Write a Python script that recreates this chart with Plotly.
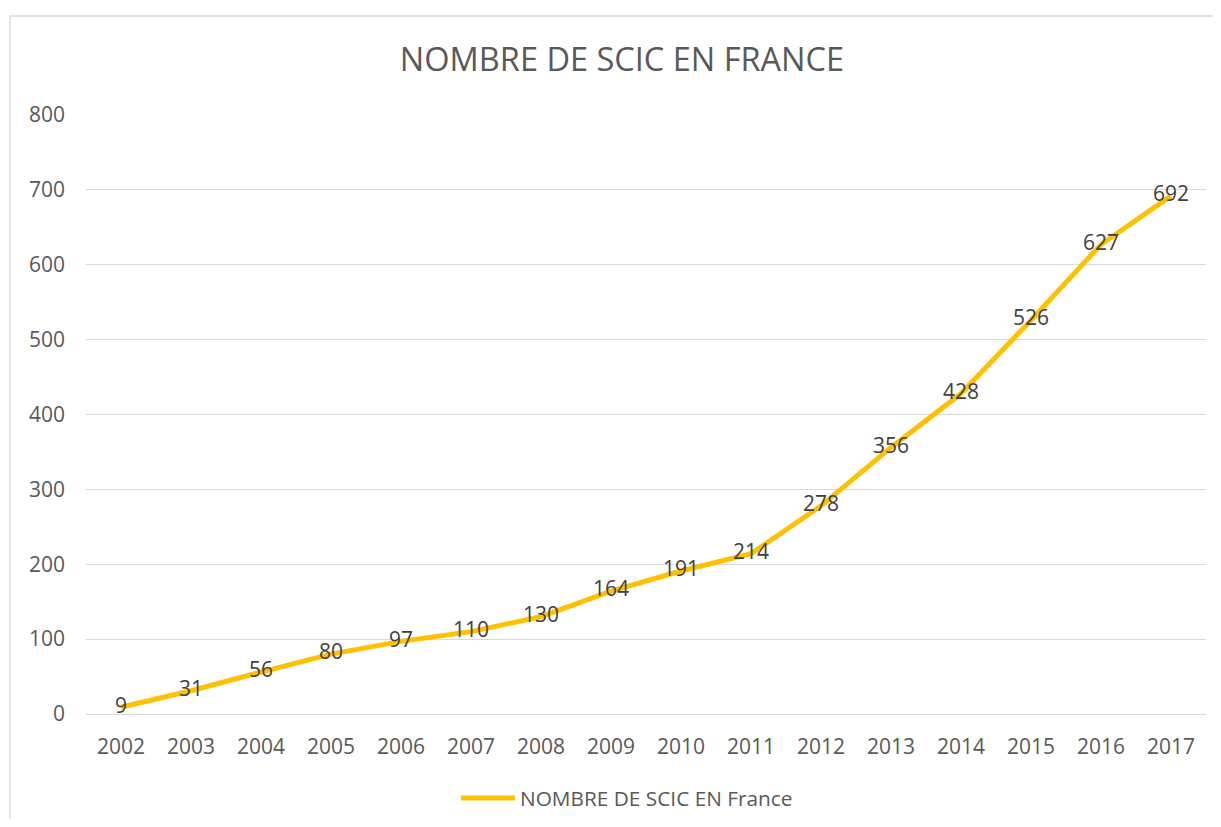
import plotly.graph_objects as go

years = ["2002", "2003", "2004", "2005", "2006", "2007", "2008", "2009",
         "2010", "2011", "2012", "2013", "2014", "2015", "2016", "2017"]
scic_count = [9, 31, 56, 80, 97, 110, 130, 164, 191, 214, 278, 356, 428, 526, 627, 692]
y_ticks = [0, 100, 200, 300, 400, 500, 600, 700, 800]
series_name = "NOMBRE DE SCIC EN France"

FONT = "Open Sans"
OFF = 8  # default page body margin
W, H = 1221 - 2 * OFF, 827 - 2 * OFF
L, T = 86 - OFF, 115 - OFF
R = W - (1206 - OFF)
B = H - (714 - OFF)
pw, ph = W - L - R, H - T - B


def px(x):
    return (x - OFF - L) / pw


def py(y):
    return ((714 - OFF) - (y - OFF)) / ph


fig = go.Figure()
fig.add_trace(go.Scatter(
    x=years, y=scic_count, mode="lines+text",
    name=series_name,
    text=[str(v) for v in scic_count], textposition="middle center",
    textfont=dict(family=FONT, size=21, color="#404040"),
    line=dict(color="#FFC000", width=5),
    cliponaxis=False, showlegend=False,
))

fig.update_layout(
    width=W, height=H,
    margin=dict(l=L, r=R, t=T, b=B),
    paper_bgcolor="white", plot_bgcolor="white",
    font=dict(family=FONT, color="#595959"),
    title=dict(text="NOMBRE DE SCIC EN FRANCE", font=dict(family=FONT, size=32.5, color="#595959"),
               x=px(622), xref="paper", xanchor="center",
               y=1 - (60 - OFF) / H, yref="container", yanchor="middle"),
    showlegend=False,
    xaxis=dict(type="category", range=[-0.5, 15.5], showgrid=False, showline=False,
               ticks="", tickfont=dict(family=FONT, size=21, color="#595959"),
               ticklabelstandoff=18, fixedrange=True),
    yaxis=dict(range=[0, 800], tickvals=y_ticks, showgrid=True, gridcolor="#d9d9d9",
               gridwidth=1.3, zeroline=True, zerolinecolor="#d9d9d9", zerolinewidth=1.3,
               showline=False, ticks="", tickfont=dict(family=FONT, size=21, color="#595959"),
               ticklabelstandoff=20, fixedrange=True),
    shapes=[
        dict(type="rect", xref="paper", yref="paper",
             x0=px(10), x1=1.2, y0=-0.5, y1=py(16),
             line=dict(color="#d9d9d9", width=1.3), layer="below"),
        dict(type="line", xref="paper", yref="paper",
             x0=px(461), x1=px(515), y0=py(798), y1=py(798),
             line=dict(color="#FFC000", width=5)),
    ],
    annotations=[
        dict(text=series_name, xref="paper", yref="paper", x=px(518), y=py(798),
             xanchor="left", yanchor="middle", showarrow=False,
             font=dict(family=FONT, size=20.8, color="#595959")),
    ],
)

fig.write_html("out.html")
